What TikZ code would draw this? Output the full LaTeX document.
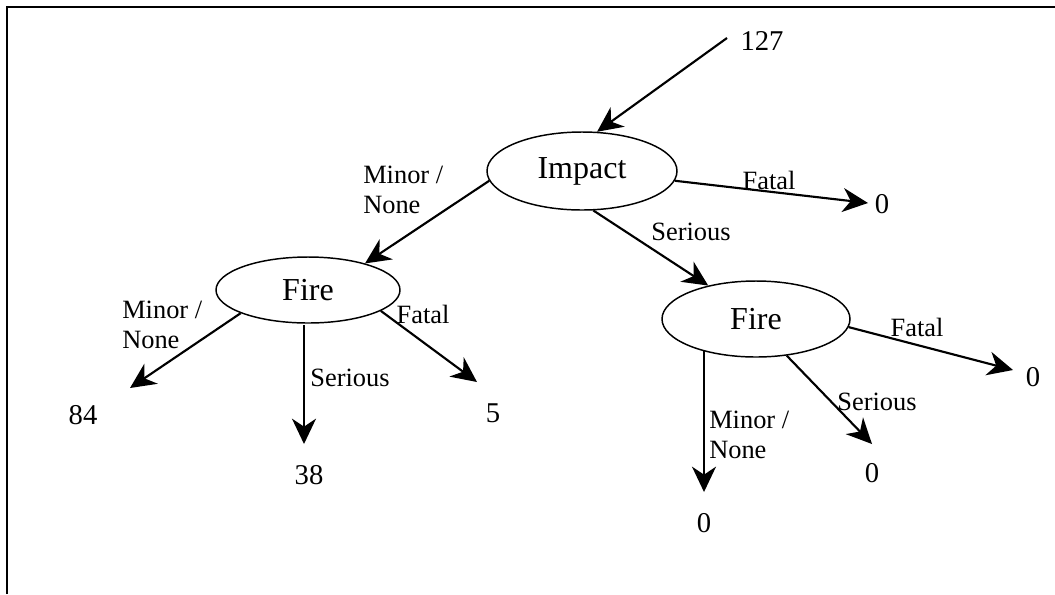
\documentclass[tikz,border=0pt]{standalone}
\usepackage{fontspec}
\setmainfont{Liberation Serif}
\usetikzlibrary{shapes.geometric,arrows.meta}
\begin{document}
\begin{tikzpicture}[x=0.75pt,y=-0.75pt,
  decision/.style={ellipse,draw,line width=1.1pt,inner sep=0pt,font=\fontsize{24}{28}\selectfont},
  count/.style={inner sep=0pt,font=\fontsize{21.5}{25}\selectfont},
  lbl/.style={inner sep=0pt,align=left,font=\fontsize{19.8}{22.5}\selectfont},
  branch/.style={line width=1.6pt,-{Stealth[length=19pt,width=18pt,inset=6pt]}}]
\useasboundingbox (0,0) rectangle (1055,594);
\draw[line width=1.5pt] (7,594) -- (7,7) -- (1055,7);

% decision nodes
\node[decision,minimum width=142.5pt,minimum height=58.5pt] (impact) at (582,171) {Impact};
\node[decision,minimum width=138pt,minimum height=49.5pt] (fireL) at (308,290) {Fire};
\node[decision,minimum width=141pt,minimum height=57pt] (fireR) at (756,319) {Fire};

% counts
\node[count] (n127) at (762,41) {127};
\node[count] (n0a) at (882,204) {0};
\node[count] (n84) at (83,415) {84};
\node[count] (n38) at (309,475) {38};
\node[count] (n5) at (493,413) {5};
\node[count] (n0b) at (1033,377) {0};
\node[count] (n0c) at (872,473) {0};
\node[count] (n0d) at (704,523) {0};

% arrow ends
\coordinate (s127) at (727,38);
\coordinate (tImpFatal) at (868,203);
\coordinate (tL84) at (130,388);
\coordinate (tL38) at (304,444);
\coordinate (tL5) at (477,382);
\coordinate (tRfatal) at (1013,370);
\coordinate (tRser) at (872,444);
\coordinate (tRmin) at (704,492);
\coordinate (sLser) at (304,325);
\coordinate (sRmin) at (704,350);

% connectors
\draw[branch] (s127) -- (impact.69);
\draw[branch] (impact.186.8) -- (fireL.25.6);
\draw[branch] (impact.286.6) -- (fireR.145);
\draw[branch] (impact.354) -- (tImpFatal);
\draw[branch] (fireL.199) -- (tL84);
\draw[branch] (sLser) -- (tL38);
\draw[branch] (fireL.344.5) -- (tL5);
\draw[branch] (fireR.355.8) -- (tRfatal);
\draw[branch] (fireR.310.5) -- (tRser);
\draw[branch] (sRmin) -- (tRmin);

% labels
\node[lbl,anchor=west] (lImpMin) at (363,190) {Minor /\\None};
\node[lbl] (lImpFatal) at (769,180) {Fatal};
\node[lbl] (lImpSer) at (691,232) {Serious};
\node[lbl,anchor=west] (lLMin) at (122,325) {Minor /\\None};
\node[lbl] (lLSer) at (350,378) {Serious};
\node[lbl] (lLFatal) at (423,314) {Fatal};
\node[lbl] (lRFatal) at (917,327) {Fatal};
\node[lbl] (lRSer) at (877,402) {Serious};
\node[lbl,anchor=west] (lRMin) at (709,435) {Minor /\\None};
\end{tikzpicture}
\end{document}
